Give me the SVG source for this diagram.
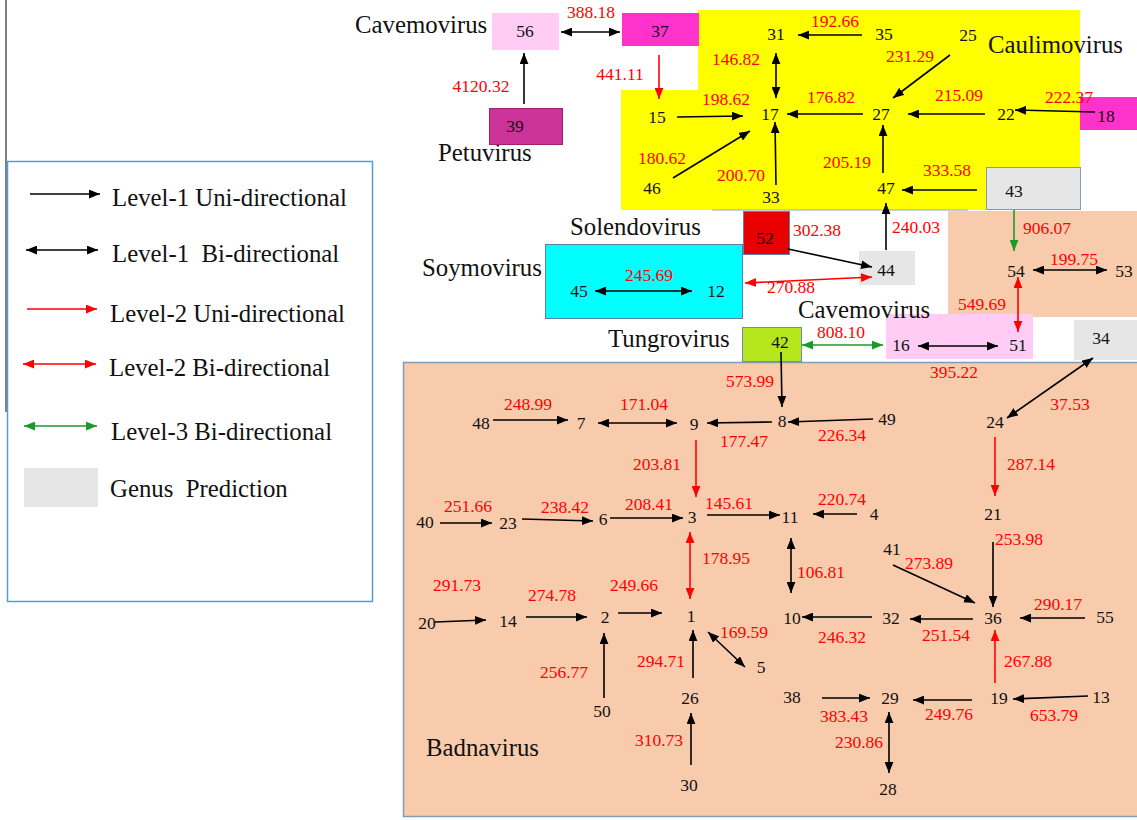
<svg xmlns="http://www.w3.org/2000/svg" width="1137" height="820" viewBox="0 0 1137 820" font-family="'Liberation Serif', 'DejaVu Serif', serif">
<defs>
<marker id="ak" viewBox="0 0 10 8" refX="10" refY="4" markerWidth="11" markerHeight="9" markerUnits="userSpaceOnUse" orient="auto-start-reverse"><path d="M0,0 L10,4 L0,8 z" fill="#000"/></marker>
<marker id="ar" viewBox="0 0 10 8" refX="10" refY="4" markerWidth="11" markerHeight="9" markerUnits="userSpaceOnUse" orient="auto-start-reverse"><path d="M0,0 L10,4 L0,8 z" fill="#f00"/></marker>
<marker id="ag" viewBox="0 0 10 8" refX="10" refY="4" markerWidth="11" markerHeight="9" markerUnits="userSpaceOnUse" orient="auto-start-reverse"><path d="M0,0 L10,4 L0,8 z" fill="#1a9a2a"/></marker>
</defs>
<style>
.n{font-size:17.5px;fill:#111;text-anchor:middle}
.w{font-size:17.5px;fill:#f00;text-anchor:middle}
.g{font-size:24.8px;fill:#111}
.lg{font-size:24.8px;fill:#111}
.k{stroke:#000;stroke-width:1.6;fill:none;marker-end:url(#ak)}
.kb{stroke:#000;stroke-width:1.6;fill:none;marker-end:url(#ak);marker-start:url(#ak)}
.r{stroke:#f00;stroke-width:1.6;fill:none;marker-end:url(#ar)}
.rb{stroke:#f00;stroke-width:1.6;fill:none;marker-end:url(#ar);marker-start:url(#ar)}
.gb{stroke:#1a9a2a;stroke-width:1.6;fill:none;marker-end:url(#ag);marker-start:url(#ag)}
.gu{stroke:#1a9a2a;stroke-width:1.6;fill:none;marker-end:url(#ag)}
</style>
<rect width="1137" height="820" fill="#fff"/>
<g id="regions">
<rect x="698" y="10" width="382" height="200" fill="#ffff00"/>
<rect x="621" y="90" width="78" height="120" fill="#ffff00"/>
<line x1="712" y1="210" x2="968" y2="210" stroke="#8fa6c0" stroke-width="1"/>
<rect x="948" y="211" width="189" height="106" fill="#f8cbad"/>
<rect x="403.5" y="362.5" width="740" height="454" fill="#f8cbad" stroke="#7f9db9" stroke-width="1.5"/>
<rect x="545.5" y="244.5" width="197" height="74" fill="#00ffff" stroke="#5b7fa8" stroke-width="1"/>
<rect x="886" y="314" width="147" height="45" fill="#ffccf5"/>
</g>
<g id="legend">
<line x1="6" y1="0" x2="6" y2="412" stroke="#555" stroke-width="1.5"/>
<rect x="7.5" y="161.5" width="365" height="440" fill="none" stroke="#5b9bd5" stroke-width="1.5"/>
<line x1="30" y1="194" x2="100" y2="194" class="k"/>
<text class="lg" x="112" y="206">Level-1 Uni-directional</text>
<line x1="26" y1="250" x2="98" y2="250" class="kb"/>
<text class="lg" x="112" y="262" xml:space="preserve">Level-1  Bi-directional</text>
<line x1="27" y1="309" x2="97" y2="309" class="r"/>
<text class="lg" x="110" y="322">Level-2 Uni-directional</text>
<line x1="23" y1="364" x2="96" y2="364" class="rb"/>
<text class="lg" x="109" y="376">Level-2 Bi-directional</text>
<line x1="24" y1="426" x2="97" y2="426" class="gb"/>
<text class="lg" x="111" y="440">Level-3 Bi-directional</text>
<rect x="24" y="468" width="74" height="39" fill="#e6e6e6"/>
<text class="lg" x="110" y="497" xml:space="preserve">Genus  Prediction</text>
</g>
<g id="genus-labels">
<text class="g" x="355" y="33">Cavemovirus</text>
<text class="g" x="438" y="161">Petuvirus</text>
<text class="g" x="988" y="53">Caulimovirus</text>
<text class="g" x="570" y="235">Solendovirus</text>
<text class="g" x="422" y="276">Soymovirus</text>
<text class="g" x="608" y="347">Tungrovirus</text>
<text class="g" x="798" y="318">Cavemovirus</text>
<text class="g" x="426" y="756">Badnavirus</text>
</g>
<g id="n56"><rect x="492" y="13" width="67" height="37" fill="#ffccf5"/><text class="n" x="525" y="37">56</text></g>
<g id="n37"><rect x="622" y="13" width="77" height="33" fill="#ff33cc"/><text class="n" x="660" y="37">37</text></g>
<g id="n39"><rect x="489.5" y="108.5" width="73" height="36" fill="#cc3399" stroke="#a01f73" stroke-width="1"/><text class="n" x="515" y="132">39</text></g>
<g id="n18"><rect x="1080" y="97" width="57" height="33" fill="#ff33cc"/><text class="n" x="1106" y="122">18</text></g>
<g id="n43"><rect x="986.5" y="167.5" width="94" height="42" fill="#e6e6e6" stroke="#7f9db9" stroke-width="1"/><text class="n" x="1014" y="197">43</text></g>
<g id="n52"><rect x="743.5" y="211.5" width="46" height="43" fill="#e80000" stroke="#6a7fa8" stroke-width="1"/><text class="n" x="765" y="244">52</text></g>
<g id="n44"><rect x="859" y="251" width="56" height="34" fill="#e6e6e6"/><text class="n" x="886" y="276">44</text></g>
<g id="n34"><rect x="1074" y="320" width="63" height="40" fill="#e6e6e6"/><text class="n" x="1101" y="344">34</text></g>
<g id="n42"><rect x="742.5" y="327.5" width="59" height="34" fill="#b5e61d" stroke="#6a8fb0" stroke-width="1"/><text class="n" x="780" y="348">42</text></g>
<g id="n15"><text class="n" x="657" y="123">15</text></g>
<g id="n31"><text class="n" x="776" y="40">31</text></g>
<g id="n35"><text class="n" x="884" y="40">35</text></g>
<g id="n25"><text class="n" x="968" y="41">25</text></g>
<g id="n17"><text class="n" x="770" y="120">17</text></g>
<g id="n27"><text class="n" x="881" y="120">27</text></g>
<g id="n22"><text class="n" x="1006" y="120">22</text></g>
<g id="n33"><text class="n" x="771" y="203">33</text></g>
<g id="n46"><text class="n" x="652" y="194">46</text></g>
<g id="n47"><text class="n" x="886" y="194">47</text></g>
<g id="n45"><text class="n" x="579" y="297">45</text></g>
<g id="n12"><text class="n" x="716" y="297">12</text></g>
<g id="n54"><text class="n" x="1016" y="277">54</text></g>
<g id="n53"><text class="n" x="1124" y="277">53</text></g>
<g id="n16"><text class="n" x="901" y="351">16</text></g>
<g id="n51"><text class="n" x="1018" y="351">51</text></g>
<g id="n8"><text class="n" x="782" y="427">8</text></g>
<g id="n49"><text class="n" x="887" y="425">49</text></g>
<g id="n9"><text class="n" x="694" y="430">9</text></g>
<g id="n7"><text class="n" x="581" y="429">7</text></g>
<g id="n48"><text class="n" x="481" y="429">48</text></g>
<g id="n24"><text class="n" x="995" y="428">24</text></g>
<g id="n21"><text class="n" x="993" y="520">21</text></g>
<g id="n3"><text class="n" x="692" y="523">3</text></g>
<g id="n40"><text class="n" x="425" y="528">40</text></g>
<g id="n23"><text class="n" x="508" y="529">23</text></g>
<g id="n6"><text class="n" x="603" y="525">6</text></g>
<g id="n11"><text class="n" x="790" y="523">11</text></g>
<g id="n4"><text class="n" x="874" y="520">4</text></g>
<g id="n10"><text class="n" x="792" y="624">10</text></g>
<g id="n32"><text class="n" x="891" y="624">32</text></g>
<g id="n36"><text class="n" x="993" y="624">36</text></g>
<g id="n55"><text class="n" x="1105" y="623">55</text></g>
<g id="n41"><text class="n" x="892" y="555">41</text></g>
<g id="n19"><text class="n" x="999" y="704">19</text></g>
<g id="n13"><text class="n" x="1101" y="703">13</text></g>
<g id="n29"><text class="n" x="890" y="704">29</text></g>
<g id="n38"><text class="n" x="792" y="703">38</text></g>
<g id="n28"><text class="n" x="888" y="795">28</text></g>
<g id="n20"><text class="n" x="427" y="629">20</text></g>
<g id="n14"><text class="n" x="508" y="627">14</text></g>
<g id="n2"><text class="n" x="605" y="623">2</text></g>
<g id="n1"><text class="n" x="691" y="622">1</text></g>
<g id="n26"><text class="n" x="690" y="704">26</text></g>
<g id="n30"><text class="n" x="689" y="791">30</text></g>
<g id="n50"><text class="n" x="602" y="717">50</text></g>
<g id="n5"><text class="n" x="761" y="673">5</text></g>
<g id="connectors">
<line x1="561" y1="32" x2="620" y2="32" class="kb"/>
<line x1="524" y1="104" x2="524" y2="53" class="k"/>
<line x1="659" y1="55" x2="659" y2="99" class="r"/>
<line x1="862" y1="35" x2="798" y2="35" class="k"/>
<line x1="950" y1="55" x2="893" y2="98" class="k"/>
<line x1="776" y1="53" x2="776" y2="98" class="kb"/>
<line x1="677" y1="117" x2="743" y2="116" class="k"/>
<line x1="863" y1="114" x2="787" y2="114" class="k"/>
<line x1="985" y1="114" x2="908" y2="114" class="k"/>
<line x1="1095" y1="112" x2="1015" y2="110" class="k"/>
<line x1="776" y1="185" x2="775" y2="122" class="k"/>
<line x1="673" y1="178" x2="750" y2="131" class="k"/>
<line x1="883" y1="173" x2="883" y2="125" class="k"/>
<line x1="977" y1="190" x2="902" y2="190" class="k"/>
<line x1="788" y1="249" x2="872" y2="267" class="k"/>
<line x1="886" y1="250" x2="886" y2="203" class="k"/>
<line x1="745" y1="283" x2="872" y2="277" class="rb"/>
<line x1="595" y1="291" x2="692" y2="291" class="kb"/>
<line x1="1014" y1="210" x2="1014" y2="251" class="gu"/>
<line x1="1033" y1="270" x2="1107" y2="270" class="kb"/>
<line x1="1018" y1="277" x2="1018" y2="332" class="rb"/>
<line x1="802" y1="345" x2="883" y2="345" class="gb"/>
<line x1="918" y1="346" x2="998" y2="346" class="kb"/>
<line x1="781" y1="352" x2="782" y2="407" class="k"/>
<line x1="1093" y1="358" x2="1007" y2="418" class="kb"/>
<line x1="995" y1="437" x2="995" y2="496" class="r"/>
<line x1="993" y1="542" x2="993" y2="607" class="k"/>
<line x1="873" y1="419" x2="788" y2="422" class="k"/>
<line x1="772" y1="422" x2="707" y2="423" class="k"/>
<line x1="598" y1="423" x2="677" y2="423" class="kb"/>
<line x1="493" y1="420" x2="568" y2="420" class="k"/>
<line x1="696" y1="440" x2="696" y2="497" class="r"/>
<line x1="440" y1="523" x2="492" y2="523" class="k"/>
<line x1="522" y1="519" x2="593" y2="521" class="k"/>
<line x1="610" y1="518" x2="683" y2="518" class="k"/>
<line x1="707" y1="515" x2="780" y2="515" class="k"/>
<line x1="857" y1="514" x2="813" y2="514" class="k"/>
<line x1="791" y1="538" x2="791" y2="593" class="kb"/>
<line x1="872" y1="617" x2="802" y2="617" class="k"/>
<line x1="973" y1="619" x2="910" y2="619" class="k"/>
<line x1="1085" y1="618" x2="1020" y2="618" class="k"/>
<line x1="893" y1="565" x2="975" y2="603" class="k"/>
<line x1="995" y1="683" x2="995" y2="630" class="r"/>
<line x1="1088" y1="696" x2="1013" y2="699" class="k"/>
<line x1="972" y1="700" x2="913" y2="700" class="k"/>
<line x1="822" y1="698" x2="870" y2="698" class="k"/>
<line x1="889" y1="712" x2="889" y2="773" class="kb"/>
<line x1="435" y1="622" x2="486" y2="620" class="k"/>
<line x1="526" y1="617" x2="587" y2="617" class="k"/>
<line x1="618" y1="613" x2="662" y2="613" class="k"/>
<line x1="690" y1="532" x2="690" y2="599" class="rb"/>
<line x1="693" y1="678" x2="693" y2="630" class="k"/>
<line x1="691" y1="765" x2="691" y2="713" class="k"/>
<line x1="604" y1="698" x2="604" y2="633" class="k"/>
<line x1="708" y1="632" x2="745" y2="667" class="kb"/>
</g>
<g id="edge-labels">
<text class="w" x="591" y="18">388.18</text>
<text class="w" x="481" y="92">4120.32</text>
<text class="w" x="620" y="80">441.11</text>
<text class="w" x="835" y="27">192.66</text>
<text class="w" x="910" y="62">231.29</text>
<text class="w" x="736" y="65">146.82</text>
<text class="w" x="726" y="105">198.62</text>
<text class="w" x="831" y="103">176.82</text>
<text class="w" x="959" y="101">215.09</text>
<text class="w" x="1069" y="103">222.37</text>
<text class="w" x="741" y="181">200.70</text>
<text class="w" x="662" y="164">180.62</text>
<text class="w" x="847" y="168">205.19</text>
<text class="w" x="947" y="176">333.58</text>
<text class="w" x="817" y="236">302.38</text>
<text class="w" x="916" y="233">240.03</text>
<text class="w" x="791" y="293">270.88</text>
<text class="w" x="649" y="281">245.69</text>
<text class="w" x="1047" y="234">906.07</text>
<text class="w" x="1074" y="265">199.75</text>
<text class="w" x="982" y="310">549.69</text>
<text class="w" x="841" y="338">808.10</text>
<text class="w" x="954" y="378">395.22</text>
<text class="w" x="1070" y="410">37.53</text>
<text class="w" x="1031" y="470">287.14</text>
<text class="w" x="1019" y="545">253.98</text>
<text class="w" x="750" y="387">573.99</text>
<text class="w" x="842" y="441">226.34</text>
<text class="w" x="744" y="447">177.47</text>
<text class="w" x="644" y="410">171.04</text>
<text class="w" x="528" y="410">248.99</text>
<text class="w" x="657" y="470">203.81</text>
<text class="w" x="468" y="512">251.66</text>
<text class="w" x="565" y="513">238.42</text>
<text class="w" x="649" y="510">208.41</text>
<text class="w" x="729" y="509">145.61</text>
<text class="w" x="842" y="505">220.74</text>
<text class="w" x="821" y="578">106.81</text>
<text class="w" x="842" y="643">246.32</text>
<text class="w" x="946" y="641">251.54</text>
<text class="w" x="1058" y="610">290.17</text>
<text class="w" x="929" y="569">273.89</text>
<text class="w" x="1028" y="667">267.88</text>
<text class="w" x="1054" y="721">653.79</text>
<text class="w" x="949" y="720">249.76</text>
<text class="w" x="844" y="722">383.43</text>
<text class="w" x="859" y="748">230.86</text>
<text class="w" x="457" y="591">291.73</text>
<text class="w" x="552" y="601">274.78</text>
<text class="w" x="634" y="591">249.66</text>
<text class="w" x="726" y="564">178.95</text>
<text class="w" x="661" y="667">294.71</text>
<text class="w" x="659" y="746">310.73</text>
<text class="w" x="564" y="678">256.77</text>
<text class="w" x="744" y="638">169.59</text>
</g>
</svg>
